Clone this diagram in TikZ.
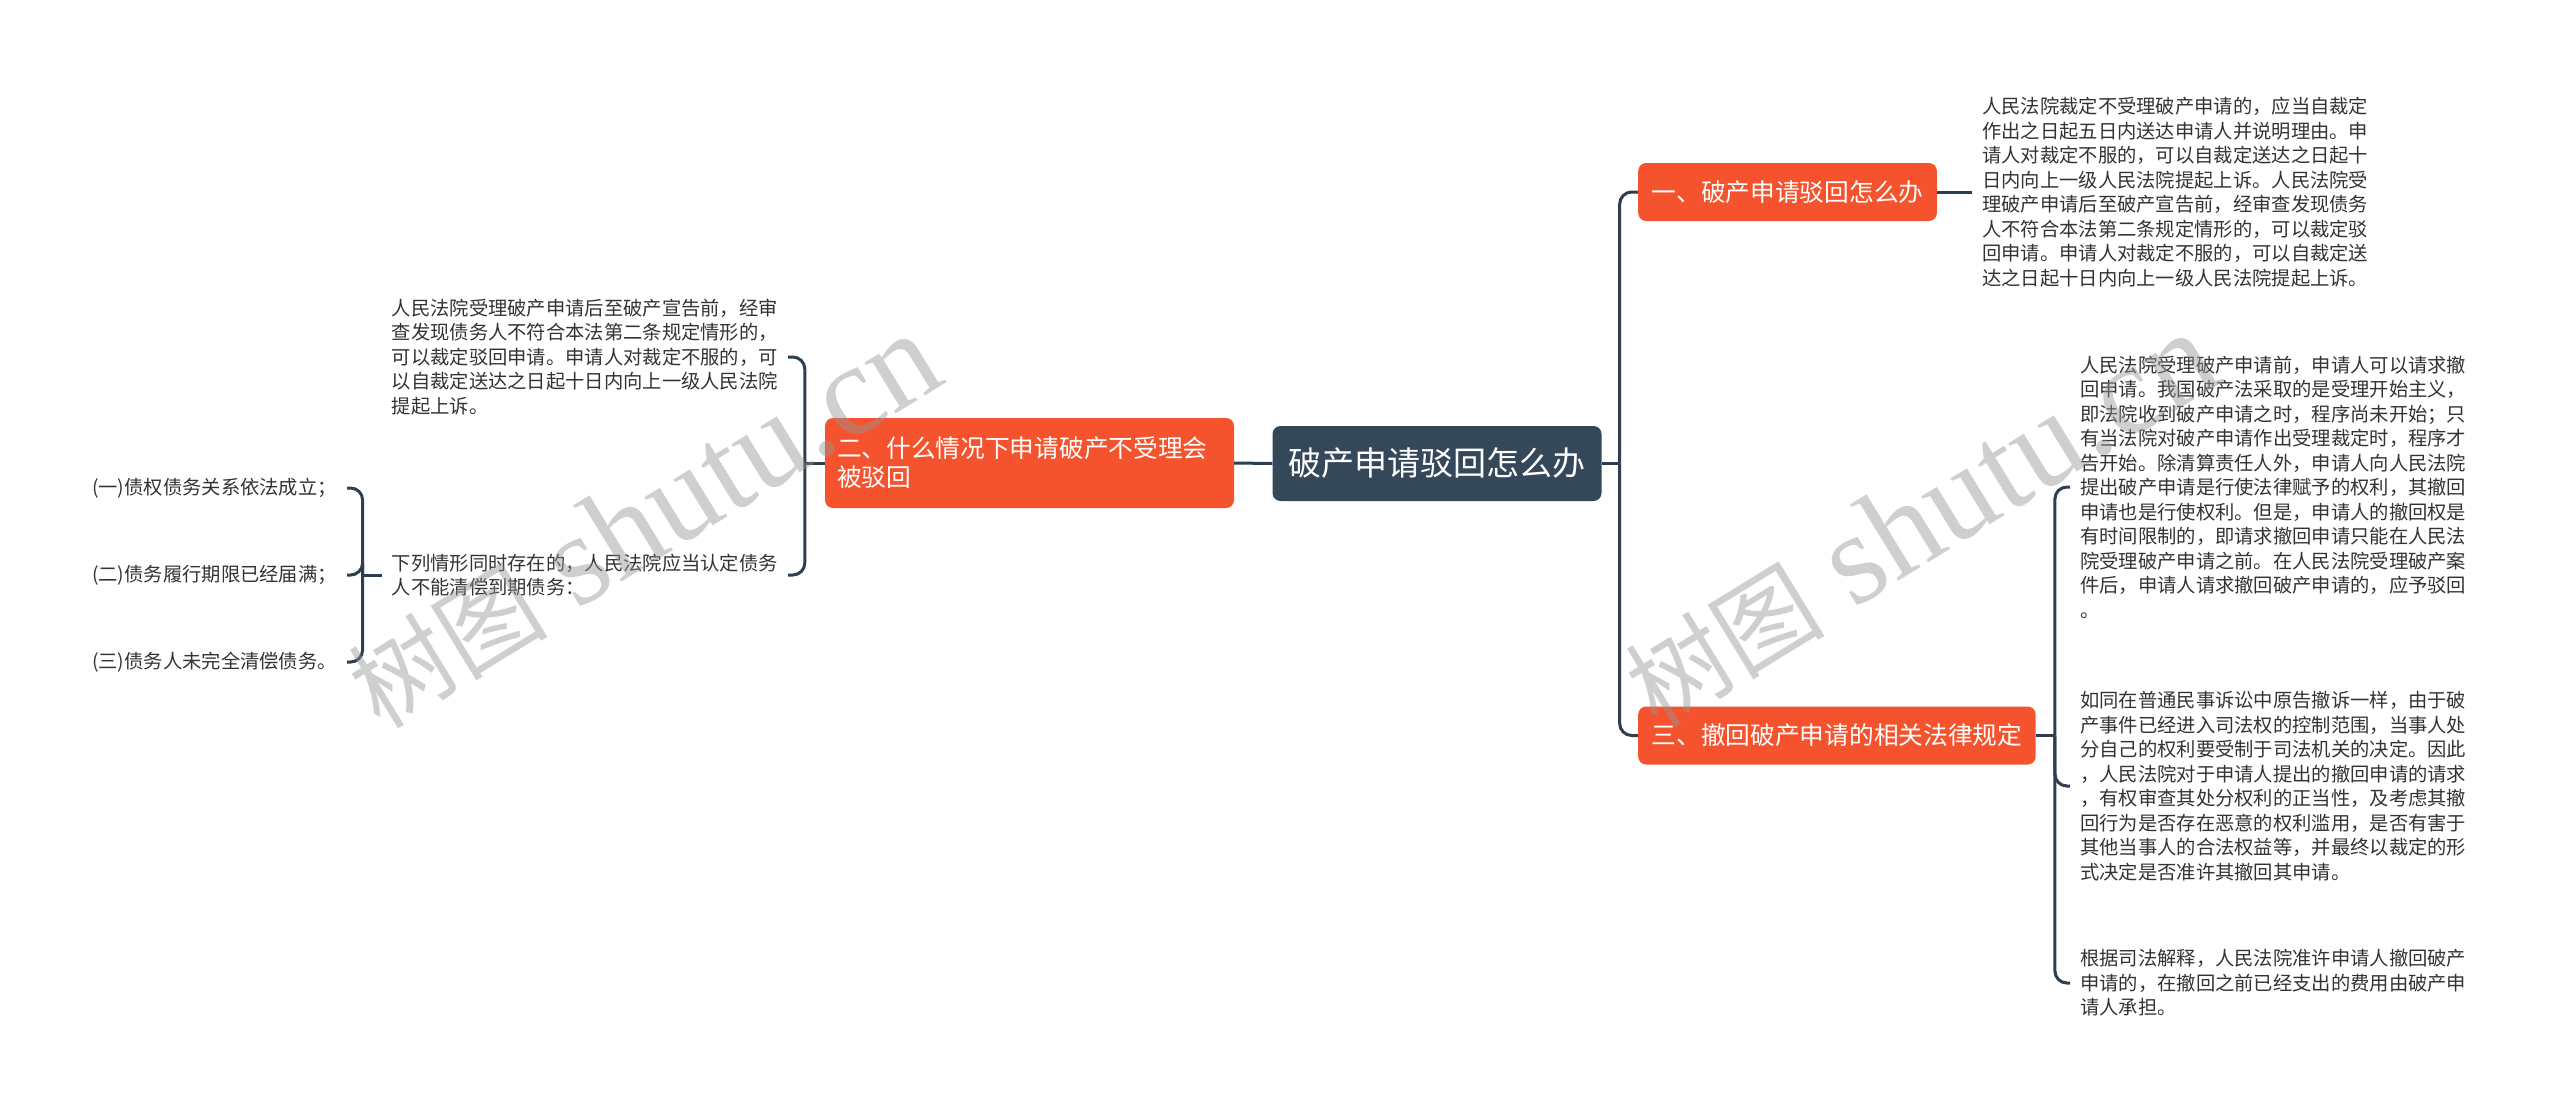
\documentclass[tikz,border=0pt]{standalone}
\usepackage{fontspec}
\setmainfont{Noto Sans CJK SC}
\newfontfamily\wmserif{Liberation Serif}
\definecolor{orng}{RGB}{245,83,45}
\definecolor{rootc}{RGB}{52,72,90}
\definecolor{linec}{RGB}{44,62,80}
\definecolor{txtc}{RGB}{51,51,51}
\definecolor{wmc}{RGB}{150,150,150}
\begin{document}
\begin{tikzpicture}[x=1pt,y=-1pt,
 conn/.style={draw=linec, line width=3pt},
 rconn/.style={draw=linec, line width=3pt, rounded corners=12pt},
 rootbox/.style={fill=rootc, rounded corners=8pt, text=white, font=\fontsize{33}{40}\selectfont, inner xsep=16pt, minimum height=75pt},
 branch/.style={fill=orng, rounded corners=8pt, text=white, font=\fontsize{24.7}{29}\selectfont, inner xsep=13.5pt, minimum height=58pt},
 leaf/.style={text=txtc, font=\fontsize{19.3}{24.5}\selectfont, align=left, inner xsep=10pt, inner ysep=0pt},
 itemtxt/.style={text=txtc, font=\fontsize{19.3}{24.5}\selectfont, inner xsep=10pt, inner ysep=0pt},
 wm/.style={text=wmc, opacity=0.45, text opacity=0.45, rotate=31.5, inner sep=0pt}
]
\useasboundingbox[fill=white] (0,0) rectangle (2560,1112);

% root
\node[rootbox] (root) at (1437,463.5) {破产申请驳回怎么办};

% branches
\node[branch, anchor=west] (b1) at (1638,192) {一、破产申请驳回怎么办};
\node[branch, anchor=west] (b3) at (1638,735.5) {三、撤回破产申请的相关法律规定};
\node[branch, text width=385pt, align=left, inner xsep=12pt, minimum height=90pt] (b2) at (1029.5,463) {二、什么情况下申请破产不受理会\\被驳回};

% right leaves
\node[leaf, anchor=west] (t1) at (1972,192) {人民法院裁定不受理破产申请的，应当自裁定\\作出之日起五日内送达申请人并说明理由。申\\请人对裁定不服的，可以自裁定送达之日起十\\日内向上一级人民法院提起上诉。人民法院受\\理破产申请后至破产宣告前，经审查发现债务\\人不符合本法第二条规定情形的，可以裁定驳\\回申请。申请人对裁定不服的，可以自裁定送\\达之日起十日内向上一级人民法院提起上诉。};

\node[leaf, anchor=west] (r1) at (2070,487) {人民法院受理破产申请前，申请人可以请求撤\\回申请。我国破产法采取的是受理开始主义，\\即法院收到破产申请之时，程序尚未开始；只\\有当法院对破产申请作出受理裁定时，程序才\\告开始。除清算责任人外，申请人向人民法院\\提出破产申请是行使法律赋予的权利，其撤回\\申请也是行使权利。但是，申请人的撤回权是\\有时间限制的，即请求撤回申请只能在人民法\\院受理破产申请之前。在人民法院受理破产案\\件后，申请人请求撤回破产申请的，应予驳回\\。};

\node[leaf, anchor=west] (r2) at (2070,786) {如同在普通民事诉讼中原告撤诉一样，由于破\\产事件已经进入司法权的控制范围，当事人处\\分自己的权利要受制于司法机关的决定。因此\\，人民法院对于申请人提出的撤回申请的请求\\，有权审查其处分权利的正当性，及考虑其撤\\回行为是否存在恶意的权利滥用，是否有害于\\其他当事人的合法权益等，并最终以裁定的形\\式决定是否准许其撤回其申请。};

\node[leaf, anchor=west] (r3) at (2070,983) {根据司法解释，人民法院准许申请人撤回破产\\申请的，在撤回之前已经支出的费用由破产申\\请人承担。};

% left leaves
\node[leaf, anchor=east] (l1) at (788,357) {人民法院受理破产申请后至破产宣告前，经审\\查发现债务人不符合本法第二条规定情形的，\\可以裁定驳回申请。申请人对裁定不服的，可\\以自裁定送达之日起十日内向上一级人民法院\\提起上诉。};
\node[leaf, anchor=east] (l2) at (788,575) {下列情形同时存在的，人民法院应当认定债务\\人不能清偿到期债务：};

\node[itemtxt, anchor=east] (i1) at (347,488) {(一)债权债务关系依法成立；};
\node[itemtxt, anchor=east] (i2) at (347,575) {(二)债务履行期限已经届满；};
\node[itemtxt, anchor=east] (i3) at (347,662) {(三)债务人未完全清偿债务。};

% connectors right
\draw[conn] (root.east) -- ++(18,0) coordinate (rj);
\draw[rconn] (rj) |- (b1.west);
\draw[rconn] (rj) |- (b3.west);
\draw[conn] (b1.east) -- (t1.west);
\draw[conn] (b3.east) -- ++(19,0) coordinate (bj3);
\draw[rconn] (bj3) |- (r1.west);
\draw[rconn] (bj3) |- (r2.west);
\draw[rconn] (bj3) |- (r3.west);

% connectors left
\draw[conn] (root.west) -- (b2.east);
\draw[conn] (b2.west) -- ++(-20,0) coordinate (lj);
\draw[rconn] (lj) |- (l1.east);
\draw[rconn] (lj) |- (l2.east);
\draw[conn] (l2.west) -- ++(-19,0) coordinate (ij);
\draw[rconn] (ij) |- (i1.east);
\draw[rconn] (ij) |- (i2.east);
\draw[rconn] (ij) |- (i3.east);

% watermarks
\node[wm] (wm1) at (643,521) {\fontsize{100}{100}\selectfont 树图\hspace{0.3em}{\wmserif\fontsize{130}{130}\selectfont shutu.cn}};
\node[wm] (wm2) at (1920,520) {\fontsize{100}{100}\selectfont 树图\hspace{0.3em}{\wmserif\fontsize{130}{130}\selectfont shutu.cn}};
\end{tikzpicture}
\end{document}
